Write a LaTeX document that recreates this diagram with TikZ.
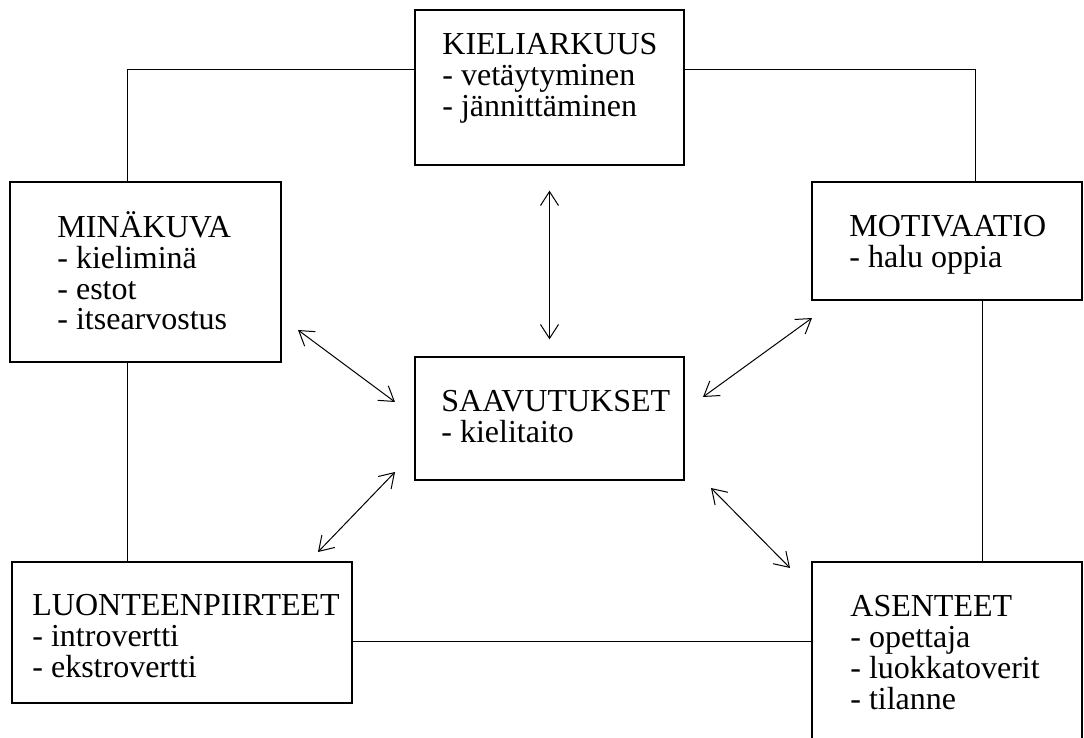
\documentclass[tikz,border=0pt]{standalone}
\usepackage{fontspec}
\setmainfont{Liberation Serif}
\usetikzlibrary{arrows.meta}
\begin{document}
\begin{tikzpicture}[x=0.5pt,y=-0.5pt,
  box/.style={draw, line width=0.6pt, inner sep=0pt, rectangle},
  txt/.style={align=left, inner sep=0pt, font=\fontsize{16pt}{15.5pt}\selectfont, anchor=base west},
  link/.style={line width=0.5pt},
  dbl/.style={line width=0.5pt, {Straight Barb[length=7pt,width=9pt]}-{Straight Barb[length=7pt,width=9pt]}}]
\clip (0,0) rectangle (1084,738);
\useasboundingbox (0,0) rectangle (1084,738);
% boxes
\node[box, minimum width=134.5pt, minimum height=77.5pt] (kiel) at (549.5,87.5) {};
\node[box, minimum width=135.5pt, minimum height=90pt] (mina) at (145.5,272) {};
\node[box, minimum width=135pt, minimum height=59pt] (moti) at (947,241) {};
\node[box, minimum width=134.5pt, minimum height=61.5pt] (saav) at (549.5,418.5) {};
\node[box, minimum width=170pt, minimum height=70.5pt] (luon) at (182,632.5) {};
\node[box, minimum width=135pt, minimum height=109pt] (asen) at (947,671) {};
% texts (anchored at the baseline of the last line)
\node[txt] (kielt) at (442,117) {KIELIARKUUS\\- vetäytyminen\\- jännittäminen};
\node[txt] (minat) at (57,330) {MINÄKUVA\\- kieliminä\\- estot\\- itsearvostus};
\node[txt] (motit) at (849,268) {MOTIVAATIO\\- halu oppia};
\node[txt] (saavt) at (441,443) {SAAVUTUKSET\\- kielitaito};
\node[txt] (luont) at (32,677) {LUONTEENPIIRTEET\\- introvertti\\- ekstrovertti};
\node[txt] (asent) at (850,709) {ASENTEET\\- opettaja\\- luokkatoverit\\- tilanne};
% plain links
\coordinate (c1) at (127,70);
\coordinate (c2) at (975,70);
\coordinate (c4) at (982,0);
\coordinate (c5) at (0,641);
\draw[link] (kiel.west |- c1) -- (c1) -- (c1 |- mina.north);
\draw[link] (kiel.east |- c2) -- (c2) -- (c2 |- moti.north);
\draw[link] (mina.south -| c1) -- (luon.north -| c1);
\draw[link] (moti.south -| c4) -- (asen.north -| c4);
\draw[link] (luon.east |- c5) -- (asen.west |- c5);
% double arrows
\draw[dbl] ([yshift=-12.5pt]kiel.south) -- ([yshift=8.5pt]saav.north);
\coordinate (m1) at (298,330); \coordinate (m2) at (395,402);
\coordinate (o1) at (812,318); \coordinate (o2) at (703,397);
\coordinate (l1) at (318,552); \coordinate (l2) at (395,472);
\coordinate (s1) at (790,568); \coordinate (s2) at (711,488);
\draw[dbl] (m1) -- (m2);
\draw[dbl] (o1) -- (o2);
\draw[dbl] (l1) -- (l2);
\draw[dbl] (s1) -- (s2);
\end{tikzpicture}
\end{document}
